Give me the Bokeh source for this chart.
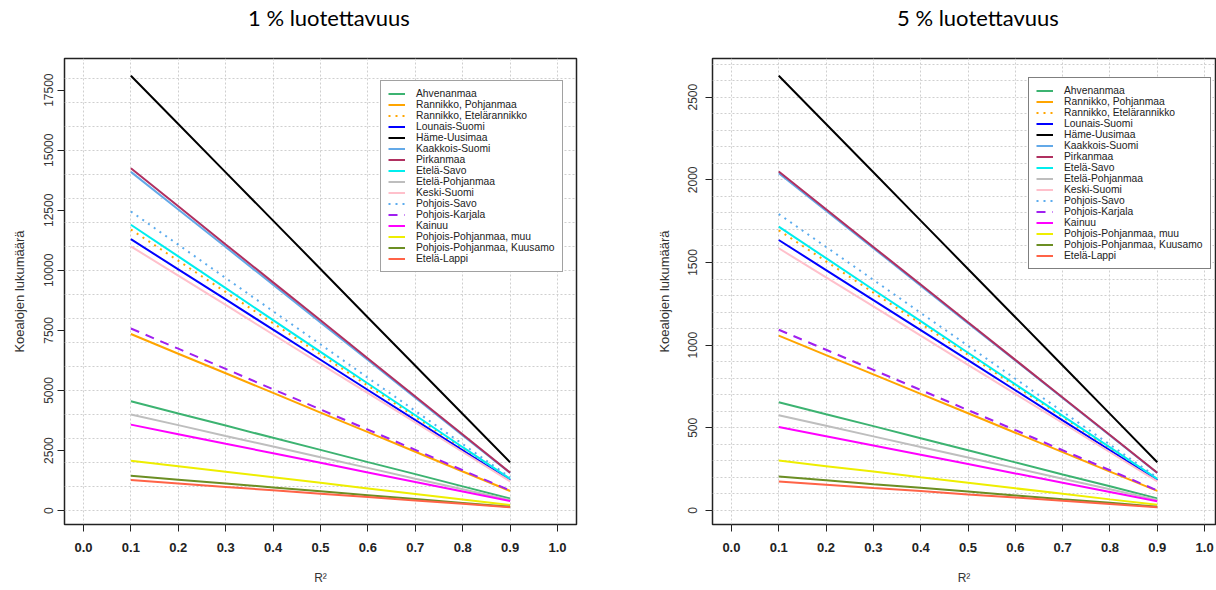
from bokeh.plotting import figure
from bokeh.layouts import row, column
from bokeh.models import FixedTicker, Range1d, PrintfTickFormatter, Div
from bokeh.embed import file_html
from bokeh.resources import INLINE

# ---------------- data ----------------
r2 = [0.1, 0.2, 0.3, 0.4, 0.5, 0.6, 0.7, 0.8, 0.9]

regions = ["Ahvenanmaa", "Rannikko, Pohjanmaa", "Rannikko, Etelärannikko", "Lounais-Suomi",
           "Häme-Uusimaa", "Kaakkois-Suomi", "Pirkanmaa", "Etelä-Savo", "Etelä-Pohjanmaa",
           "Keski-Suomi", "Pohjois-Savo", "Pohjois-Karjala", "Kainuu",
           "Pohjois-Pohjanmaa, muu", "Pohjois-Pohjanmaa, Kuusamo", "Etelä-Lappi"]

colors = ["#3CB371", "#FFA500", "#FFA500", "#0000FF", "#000000", "#63A9E8", "#B03060",
          "#00EEEE", "#BEBEBE", "#FFC0CB", "#5CACEE", "#A020F0", "#FF00FF",
          "#EEEE00", "#6B8E23", "#FF6347"]

dashes = ["solid", "solid", "2 5", "solid", "solid", "solid", "solid", "solid", "solid",
          "solid", "2 5", "9 7", "solid", "solid", "solid", "solid"]

# 1 % luotettavuus
c1_ahvenanmaa = [4550, 4040, 3540, 3030, 2530, 2020, 1520, 1010, 505]
c1_rannikko_pohjanmaa = [7350, 6530, 5720, 4900, 4080, 3270, 2450, 1630, 817]
c1_rannikko_etelarannikko = [11700, 10400, 9100, 7800, 6500, 5200, 3900, 2600, 1300]
c1_lounais_suomi = [11300, 10040, 8790, 7530, 6280, 5020, 3770, 2510, 1256]
c1_hame_uusimaa = [18100, 16090, 14080, 12070, 10060, 8040, 6030, 4020, 2010]
c1_kaakkois_suomi = [14100, 12530, 10970, 9400, 7830, 6270, 4700, 3130, 1567]
c1_pirkanmaa = [14250, 12670, 11080, 9500, 7920, 6330, 4750, 3170, 1583]
c1_etela_savo = [11900, 10580, 9260, 7930, 6610, 5290, 3970, 2640, 1322]
c1_etela_pohjanmaa = [4000, 3560, 3110, 2670, 2220, 1780, 1330, 890, 444]
c1_keski_suomi = [11000, 9780, 8560, 7330, 6110, 4890, 3670, 2440, 1222]
c1_pohjois_savo = [12450, 11070, 9680, 8300, 6920, 5530, 4150, 2770, 1383]
c1_pohjois_karjala = [7580, 6740, 5900, 5050, 4210, 3370, 2530, 1680, 842]
c1_kainuu = [3580, 3180, 2780, 2390, 1990, 1590, 1190, 796, 398]
c1_pp_muu = [2080, 1850, 1620, 1390, 1160, 924, 693, 462, 231]
c1_pp_kuusamo = [1450, 1290, 1130, 967, 806, 644, 483, 322, 161]
c1_etela_lappi = [1270, 1130, 988, 847, 706, 564, 423, 282, 141]

# 5 % luotettavuus
c5_ahvenanmaa = [655, 582, 510, 437, 364, 291, 218, 146, 73]
c5_rannikko_pohjanmaa = [1058, 940, 823, 705, 588, 470, 353, 235, 118]
c5_rannikko_etelarannikko = [1695, 1507, 1318, 1130, 942, 753, 565, 377, 188]
c5_lounais_suomi = [1636, 1454, 1272, 1091, 909, 727, 545, 364, 182]
c5_hame_uusimaa = [2630, 2338, 2046, 1753, 1461, 1169, 877, 584, 292]
c5_kaakkois_suomi = [2040, 1813, 1587, 1360, 1133, 907, 680, 453, 227]
c5_pirkanmaa = [2050, 1822, 1594, 1367, 1139, 911, 683, 456, 228]
c5_etela_savo = [1717, 1526, 1335, 1145, 954, 763, 572, 382, 191]
c5_etela_pohjanmaa = [576, 512, 448, 384, 320, 256, 192, 128, 64]
c5_keski_suomi = [1586, 1410, 1234, 1057, 881, 705, 529, 352, 176]
c5_pohjois_savo = [1793, 1594, 1395, 1195, 996, 797, 598, 398, 199]
c5_pohjois_karjala = [1093, 972, 850, 729, 607, 486, 364, 243, 121]
c5_kainuu = [505, 449, 393, 337, 281, 224, 168, 112, 56]
c5_pp_muu = [302, 268, 235, 201, 168, 134, 101, 67, 34]
c5_pp_kuusamo = [205, 182, 159, 137, 114, 91, 68, 46, 23]
c5_etela_lappi = [175, 156, 136, 117, 97, 78, 58, 39, 19]

series_1 = [c1_ahvenanmaa, c1_rannikko_pohjanmaa, c1_rannikko_etelarannikko, c1_lounais_suomi,
            c1_hame_uusimaa, c1_kaakkois_suomi, c1_pirkanmaa, c1_etela_savo, c1_etela_pohjanmaa,
            c1_keski_suomi, c1_pohjois_savo, c1_pohjois_karjala, c1_kainuu, c1_pp_muu,
            c1_pp_kuusamo, c1_etela_lappi]
series_5 = [c5_ahvenanmaa, c5_rannikko_pohjanmaa, c5_rannikko_etelarannikko, c5_lounais_suomi,
            c5_hame_uusimaa, c5_kaakkois_suomi, c5_pirkanmaa, c5_etela_savo, c5_etela_pohjanmaa,
            c5_keski_suomi, c5_pohjois_savo, c5_pohjois_karjala, c5_kainuu, c5_pp_muu,
            c5_pp_kuusamo, c5_etela_lappi]

x_ticks = [0.0, 0.1, 0.2, 0.3, 0.4, 0.5, 0.6, 0.7, 0.8, 0.9, 1.0]
y_ticks_1 = [0, 2500, 5000, 7500, 10000, 12500, 15000, 17500]
y_ticks_5 = [0, 500, 1000, 1500, 2000, 2500]
y_grid_1 = list(range(0, 19000, 1000))
y_grid_5 = list(range(0, 2800, 100))

title_1 = "1 % luotettavuus"
title_5 = "5 % luotettavuus"
y_label = "Koealojen lukumäärä"
x_label = "R²"

TITLE_H = 36


def make_title(text, width, pad_left):
    return Div(text=text, width=width, height=TITLE_H, margin=0,
               styles={"font-family": "Lato", "font-size": "22px", "color": "#000000",
                       "line-height": f"{TITLE_H}px", "padding-left": f"{pad_left}px",
                       "white-space": "nowrap", "box-sizing": "border-box"})


def make_panel(series, y_ticks, y_grid, x_end, y_range, width, mb_left, mb_right,
               tick_standoff, label_standoff, legend_loc, legend_border):
    p = figure(width=width, height=590 - TITLE_H, output_backend="svg", toolbar_location=None,
               x_range=Range1d(-0.04, x_end), y_range=Range1d(*y_range),
               min_border_left=mb_left, min_border_right=mb_right,
               min_border_top=58 - TITLE_H, min_border_bottom=66)

    for name, col, dash, ys in zip(regions, colors, dashes, series):
        p.line(r2, ys, line_color=col, line_width=2, line_dash=dash, legend_label=name)

    p.outline_line_color = "#222222"
    p.outline_line_width = 1.5
    p.background_fill_color = "white"
    p.border_fill_color = "white"

    # grid
    p.xgrid.ticker = FixedTicker(ticks=x_ticks)
    p.ygrid.ticker = FixedTicker(ticks=y_grid)
    for g in (p.xgrid, p.ygrid):
        g.grid_line_color = "#cfcfcf"
        g.grid_line_dash = "2 2"
        g.grid_line_width = 1

    # x axis
    xa = p.xaxis[0]
    xa.ticker = FixedTicker(ticks=x_ticks)
    xa.formatter = PrintfTickFormatter(format="%.1f")
    xa.axis_line_color = None
    xa.major_tick_in = 0
    xa.major_tick_out = 7
    xa.major_tick_line_color = "#222222"
    xa.minor_tick_in = 0
    xa.minor_tick_out = 0
    xa.major_label_text_font = "Liberation Sans"
    xa.major_label_text_font_size = "13px"
    xa.major_label_text_font_style = "bold"
    xa.major_label_text_color = "#222222"
    xa.major_label_standoff = 11
    xa.axis_label = x_label
    xa.axis_label_text_font = "Liberation Sans"
    xa.axis_label_text_font_size = "12px"
    xa.axis_label_text_font_style = "normal"
    xa.axis_label_text_color = "#333333"
    xa.axis_label_standoff = 16

    # y axis
    ya = p.yaxis[0]
    ya.ticker = FixedTicker(ticks=y_ticks)
    ya.axis_line_color = None
    ya.major_tick_in = 0
    ya.major_tick_out = 7
    ya.major_tick_line_color = "#222222"
    ya.minor_tick_in = 0
    ya.minor_tick_out = 0
    ya.major_label_orientation = "vertical"
    ya.major_label_text_font = "Liberation Sans"
    ya.major_label_text_font_size = "12px"
    ya.major_label_text_color = "#333333"
    ya.major_label_standoff = tick_standoff
    ya.axis_label = y_label
    ya.axis_label_text_font = "Liberation Sans"
    ya.axis_label_text_font_size = "13px"
    ya.axis_label_text_font_style = "normal"
    ya.axis_label_text_color = "#333333"
    ya.axis_label_standoff = label_standoff

    lg = p.legend[0]
    lg.location = legend_loc
    lg.label_text_font = "Liberation Sans"
    lg.label_text_font_size = "10.3px"
    lg.label_text_color = "#222222"
    lg.label_height = 11
    lg.glyph_height = 11
    lg.glyph_width = 17
    lg.label_standoff = 11
    lg.spacing = 0
    lg.padding = 7
    lg.margin = 0
    lg.border_line_color = legend_border
    lg.border_line_width = 1.5
    lg.background_fill_color = "white"
    lg.background_fill_alpha = 1.0
    return p


p1 = make_panel(series_1, y_ticks_1, y_grid_1, 1.04, (-577, 18818), 640, 64, 64,
                4, 15, (316, 252), "#444444")
p5 = make_panel(series_5, y_ticks_5, y_grid_5, 1.023, (-85, 2734), 576, 72, 1,
                8, 14, (316, 255), "#000000")

t1 = make_title(title_1, 640, 248)
t5 = make_title(title_5, 576, 257)

layout = column(row(t1, t5, spacing=0), row(p1, p5, spacing=0), spacing=0)
open("out.html", "w").write(file_html(layout, INLINE))
